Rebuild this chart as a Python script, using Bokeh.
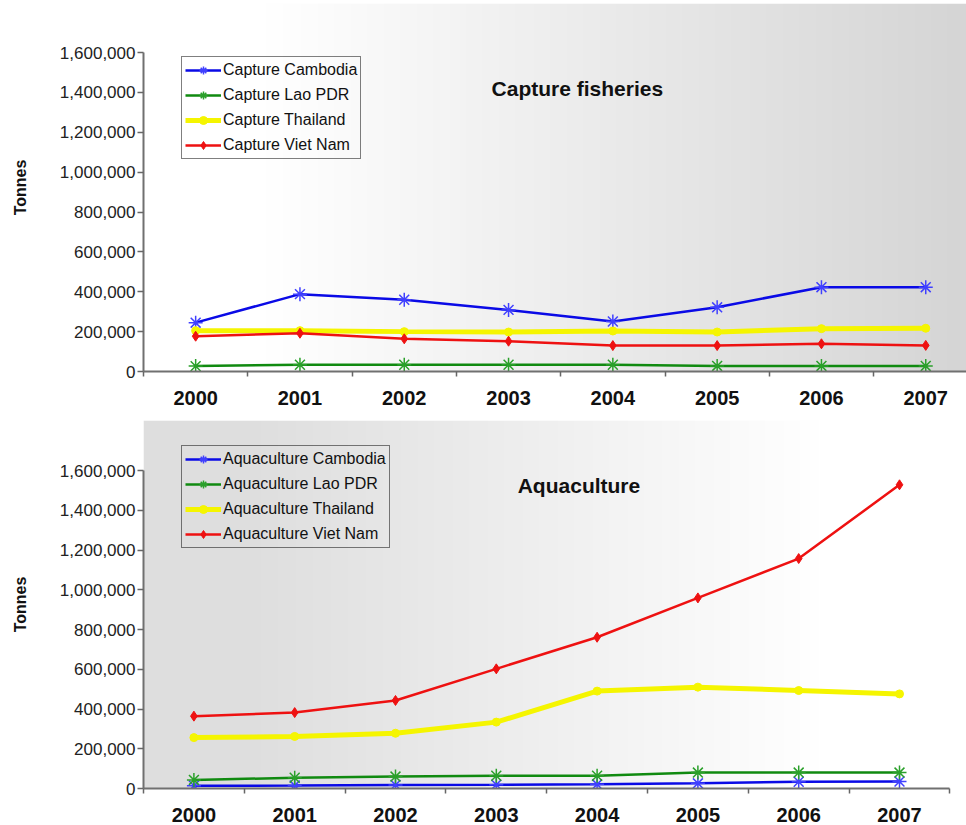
import numpy as np
from bokeh.plotting import figure
from bokeh.layouts import column
from bokeh.models import (Range1d, FixedTicker, NumeralTickFormatter, Label)
from bokeh.embed import file_html
from bokeh.resources import INLINE

years = [2000, 2001, 2002, 2003, 2004, 2005, 2006, 2007]
y_ticks = [0, 200000, 400000, 600000, 800000, 1000000, 1200000, 1400000, 1600000]

cap_cambodia = [245000, 388000, 360000, 309000, 251000, 322000, 423000, 423000]
cap_lao = [27000, 34000, 34000, 34000, 34000, 28000, 28000, 28000]
cap_thailand = [205000, 205000, 200000, 198000, 203000, 198000, 215000, 217000]
cap_vietnam = [177000, 192000, 164000, 152000, 130000, 130000, 139000, 131000]

aqua_cambodia = [14000, 14600, 18000, 19000, 21000, 26000, 34000, 35000]
aqua_lao = [43000, 54000, 60000, 64000, 64000, 80000, 80000, 80000]
aqua_thailand = [256000, 262000, 278000, 334000, 490000, 510000, 493000, 476000]
aqua_vietnam = [364000, 382000, 443000, 602000, 761000, 959000, 1157000, 1528000]

cap_labels = ["Capture Cambodia", "Capture Lao PDR", "Capture Thailand", "Capture Viet Nam"]
aqua_labels = ["Aquaculture Cambodia", "Aquaculture Lao PDR", "Aquaculture Thailand", "Aquaculture Viet Nam"]

FONT = "Liberation Sans"


def gradient_image(vals):
    vals = np.clip(np.asarray(vals), 0, 255).astype(np.uint8)
    img = np.empty((1, len(vals)), dtype=np.uint32)
    view = img.view(dtype=np.uint8).reshape((1, len(vals), 4))
    view[0, :, 0] = vals
    view[0, :, 1] = vals
    view[0, :, 2] = vals
    view[0, :, 3] = 255
    return img


def make_fig(height, x_end, y_end, border_top, border_bottom, standoff, x_bounds):
    p = figure(width=966, height=height, output_backend="svg", toolbar_location=None,
               x_range=Range1d(1999.5, x_end), y_range=Range1d(0, y_end),
               min_border_left=143, min_border_right=0,
               min_border_top=border_top, min_border_bottom=border_bottom)
    p.outline_line_color = None
    p.xgrid.visible = False
    p.ygrid.visible = False
    p.background_fill_color = "white"
    p.border_fill_color = "white"

    xa = p.xaxis[0]
    xa.ticker = FixedTicker(ticks=years, minor_ticks=[y - 0.5 for y in years] + [years[-1] + 0.5])
    xa.bounds = x_bounds
    xa.major_tick_out = 0
    xa.major_tick_in = 0
    xa.minor_tick_out = 5
    xa.minor_tick_in = 0
    xa.minor_tick_line_color = "#666666"
    xa.minor_tick_line_width = 1.5
    xa.axis_line_color = "#707070"
    xa.axis_line_width = 2
    xa.major_label_text_font = FONT
    xa.major_label_text_font_style = "bold"
    xa.major_label_text_font_size = "20px"
    xa.major_label_text_color = "#111111"
    xa.major_label_standoff = standoff

    ya = p.yaxis[0]
    ya.ticker = FixedTicker(ticks=y_ticks, minor_ticks=[])
    ya.bounds = (y_ticks[0], y_ticks[-1])
    ya.formatter = NumeralTickFormatter(format="0,0")
    ya.major_tick_out = 6
    ya.major_tick_in = 0
    ya.major_tick_line_color = "#666666"
    ya.major_tick_line_width = 1.5
    ya.axis_line_color = "#707070"
    ya.axis_line_width = 2
    ya.major_label_text_font = FONT
    ya.major_label_text_font_size = "17px"
    ya.major_label_text_color = "#222222"
    ya.major_label_standoff = 2
    ya.axis_label = "Tonnes"
    ya.axis_label_text_font = FONT
    ya.axis_label_text_font_style = "bold"
    ya.axis_label_text_font_size = "16px"
    ya.axis_label_text_color = "#111111"
    ya.axis_label_standoff = 28
    return p


def add_series(p, vals_list, labels):
    cam, lao, tha, vie = vals_list
    p.line(years, cam, line_color="#0a0ae6", line_width=2.5, legend_label=labels[0])
    p.scatter(years, cam, marker="asterisk", size=14, line_color="#4040ff", line_width=1.5, legend_label=labels[0])
    p.line(years, lao, line_color="#108a10", line_width=2.5, legend_label=labels[1])
    p.scatter(years, lao, marker="asterisk", size=14, line_color="#2aa02a", line_width=1.5, legend_label=labels[1])
    p.line(years, tha, line_color="#f5f500", line_width=5, legend_label=labels[2])
    p.scatter(years, tha, marker="circle", size=8, fill_color="#f5f500", line_color="#f5f500", legend_label=labels[2])
    p.line(years, vie, line_color="#ee1111", line_width=2.5, legend_label=labels[3])
    p.scatter(years, vie, marker="diamond", size=10, fill_color="#ee1111", line_color="#ee1111", legend_label=labels[3])


def style_legend(p, loc):
    lg = p.legend[0]
    lg.location = loc
    lg.border_line_color = "black"
    lg.border_line_width = 1.2
    lg.background_fill_alpha = 0
    lg.label_text_font = FONT
    lg.label_text_font_size = "16px"
    lg.label_text_color = "#111111"
    lg.glyph_width = 36
    lg.glyph_height = 20
    lg.label_height = 20
    lg.spacing = 5
    lg.padding = 3
    lg.margin = 0
    lg.label_standoff = 2


t = np.linspace(0, 1, 400)

# ---------- top: capture fisheries ----------
top_x_end = 1999.5 + 823 / 104.3
top_y_end = (371 - 3) / 319 * 1600000
p1 = make_fig(412, top_x_end, top_y_end, 3, 41, 14, "auto")
bg1 = 255 - 42 * np.clip((t - 0.15) / 0.85, 0, 1)
p1.image_rgba(image=[gradient_image(bg1)], x=1999.5, y=0, dw=top_x_end - 1999.5, dh=top_y_end)
add_series(p1, [cap_cambodia, cap_lao, cap_thailand, cap_vietnam], cap_labels)
style_legend(p1, (38, 212))
p1.add_layout(Label(x=2003.66, y=1420000, text="Capture fisheries", text_align="center",
                    text_baseline="middle", text_font=FONT, text_font_style="bold",
                    text_font_size="21px", text_color="#111111"))

# ---------- bottom: aquaculture ----------
bot_x_end = 1999.5 + 823 / 100.8
bot_y_end = 368 / 318 * 1600000
p2 = make_fig(413, bot_x_end, bot_y_end, 8, 37, 14, (1999.5, 2007.5))
bg2 = 222 + 33 * np.clip((t - 0.12) / 0.7, 0, 1)
p2.image_rgba(image=[gradient_image(bg2)], x=1999.5, y=0, dw=bot_x_end - 1999.5, dh=bot_y_end)
add_series(p2, [aqua_cambodia, aqua_lao, aqua_thailand, aqua_vietnam], aqua_labels)
style_legend(p2, (38, 240))
p2.add_layout(Label(x=2003.82, y=1524000, text="Aquaculture", text_align="center",
                    text_baseline="middle", text_font=FONT, text_font_style="bold",
                    text_font_size="21px", text_color="#111111"))

layout = column(p1, p2, spacing=0)
open("out.html", "w").write(file_html(layout, INLINE))
